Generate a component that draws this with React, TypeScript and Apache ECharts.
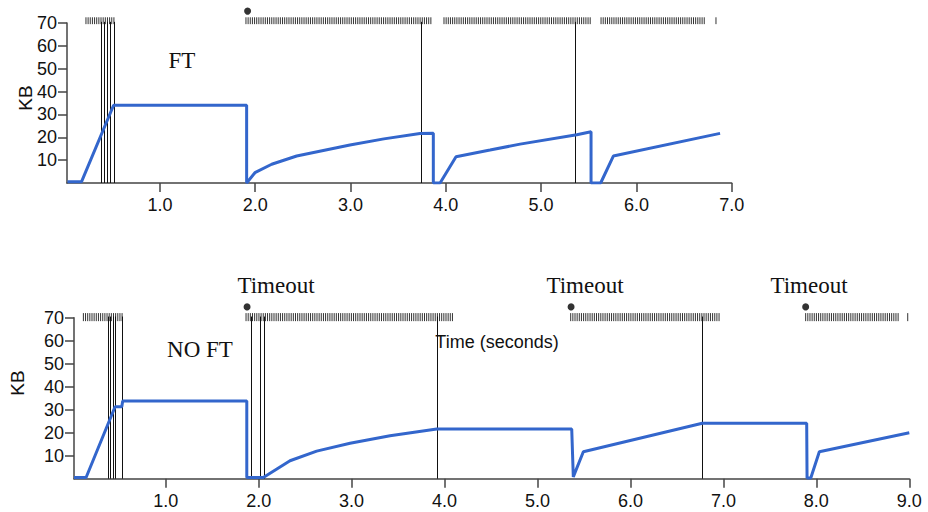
import React, { useEffect, useRef } from "react";
import * as echarts from "echarts";

// ---- Data ----
// Top panel (FT): congestion window over time
const topTime = [0.03, 0.178, 0.514, 1.91, 1.91, 1.997, 2.173, 2.435, 2.994, 3.35, 3.729, 3.869, 3.869, 3.94, 4.107, 4.464, 4.779, 5.374, 5.524, 5.524, 5.625, 5.758, 6.878];
const topKB = [0.6, 0.6, 34, 34, 0, 4.5, 8.2, 11.8, 16.6, 19.3, 21.7, 21.8, 0, 0, 11.5, 14.4, 17.0, 21.1, 22.4, 0, 0, 11.8, 21.7];
// packet bursts (start, end) in seconds
const topBursts = [[0.224, 0.53], [1.903, 3.855], [3.981, 5.534], [5.629, 6.72], [6.835, 6.835]];
// full-height marker lines
const topMarkers = [0.38, 0.41, 0.44, 0.475, 0.517, 3.74, 5.36];
const topTimeouts = [1.92];

// Bottom panel (NO FT)
const botTime = [0.013, 0.143, 0.455, 0.527, 0.537, 1.872, 1.872, 2.05, 2.337, 2.624, 2.983, 3.413, 3.916, 3.987, 5.368, 5.385, 5.493, 6.773, 7.896, 7.9, 7.94, 8.032, 9.0];
const botKB = [0.5, 0.5, 31.3, 31.3, 33.8, 33.8, 0.5, 0.5, 7.8, 12.0, 15.4, 18.7, 21.6, 21.6, 21.6, 0.8, 11.7, 24.1, 24.1, 0.3, 0.3, 11.7, 20.0];
const botBursts = [[0.114, 0.537], [1.864, 4.094], [5.357, 6.965], [7.885, 8.9], [8.983, 8.983]];
const botMarkers = [0.376, 0.401, 0.43, 0.458, 0.527, 1.918, 2.015, 2.057, 3.922, 6.775];
const botTimeouts = [1.875, 5.361, 7.885];

const topXTicks = [1, 2, 3, 4, 5, 6, 7];
const botXTicks = [1, 2, 3, 4, 5, 6, 7, 8, 9];
const yTicks = [10, 20, 30, 40, 50, 60, 70];

const BLUE = "#3366cc";
const AXIS = "#444";
const SANS = "Liberation Sans, Arial, sans-serif";
const SERIF = "Liberation Serif, Times New Roman, serif";

function zip(a: number[], b: number[]) {
  return a.map((v, i) => [v, b[i]]);
}

function burstSeries(idx: number, bursts: number[][], yLo: number, yHi: number) {
  return {
    type: "custom",
    xAxisIndex: idx,
    yAxisIndex: idx,
    clip: false,
    data: bursts,
    renderItem: (params: any, api: any) => {
      const s = api.value(0);
      const e = api.value(1);
      const p1 = api.coord([s, yHi]);
      const p2 = api.coord([e, yLo]);
      const children: any[] = [];
      const step = 2.15;
      const n = Math.max(1, Math.floor((p2[0] - p1[0]) / step) + 1);
      for (let i = 0; i < n; i++) {
        const x = p1[0] + i * step;
        children.push({
          type: "line",
          shape: { x1: x, y1: p1[1], x2: x, y2: p2[1] },
          style: { stroke: "#333", lineWidth: 1 },
        });
      }
      return { type: "group", children };
    },
  };
}

function markerSeries(idx: number, markers: number[]) {
  return {
    type: "custom",
    xAxisIndex: idx,
    yAxisIndex: idx,
    clip: false,
    data: markers.map((m) => [m]),
    renderItem: (params: any, api: any) => {
      const t = api.value(0);
      const a = api.coord([t, 70.5]);
      const b = api.coord([t, 0]);
      const x = Math.round(a[0]) + 0.5;
      return {
        type: "line",
        shape: { x1: x, y1: a[1], x2: x, y2: b[1] },
        style: { stroke: "#111", lineWidth: 1 },
      };
    },
  };
}

function xAxisCfg(idx: number, min: number, max: number, ticks: number[]) {
  return {
    type: "value",
    gridIndex: idx,
    min,
    max,
    splitLine: { show: false },
    axisLine: { show: true, lineStyle: { color: AXIS, width: 1.5 } },
    axisTick: { show: true, length: 9, customValues: ticks, lineStyle: { color: AXIS, width: 1.5 } },
    axisLabel: {
      customValues: ticks,
      margin: 13,
      color: "#111",
      fontFamily: SANS,
      fontSize: 18,
      formatter: (v: number) => v.toFixed(1),
    },
  };
}

function yAxisCfg(idx: number) {
  return {
    type: "value",
    gridIndex: idx,
    min: 0,
    max: 70,
    splitLine: { show: false },
    axisLine: { show: true, lineStyle: { color: AXIS, width: 1.5 } },
    axisTick: { show: true, length: 9, customValues: yTicks, lineStyle: { color: AXIS, width: 1.5 } },
    axisLabel: {
      customValues: yTicks,
      margin: 10,
      color: "#111",
      fontFamily: SANS,
      fontSize: 18,
    },
  };
}

export default function App() {
  const ref = useRef<HTMLDivElement>(null);
  useEffect(() => {
    if (!ref.current) return;
    const chart = echarts.init(ref.current, undefined, { renderer: "svg" });
    const option: any = {
      animation: false,
      backgroundColor: "#fff",
      grid: [
        { left: 67, right: 196.3, top: 23, height: 160 },
        { left: 74, right: 18.7, top: 317.7, height: 161 },
      ],
      xAxis: [xAxisCfg(0, 0.025, 7, topXTicks), xAxisCfg(1, 0.013, 9, botXTicks)],
      yAxis: [yAxisCfg(0), yAxisCfg(1)],
      graphic: [
        { type: "text", x: 182, y: 60, style: { text: "FT", font: `23px ${SERIF}`, fill: "#111", align: "center", verticalAlign: "middle" } },
        { type: "text", x: 200, y: 349, style: { text: "NO FT", font: `23px ${SERIF}`, fill: "#111", align: "center", verticalAlign: "middle" } },
        { type: "text", x: 276, y: 285, style: { text: "Timeout", font: `23px ${SERIF}`, fill: "#111", align: "center", verticalAlign: "middle" } },
        { type: "text", x: 585, y: 285, style: { text: "Timeout", font: `23px ${SERIF}`, fill: "#111", align: "center", verticalAlign: "middle" } },
        { type: "text", x: 809, y: 285, style: { text: "Timeout", font: `23px ${SERIF}`, fill: "#111", align: "center", verticalAlign: "middle" } },
        { type: "text", x: 497, y: 342, style: { text: "Time (seconds)", font: `18px ${SANS}`, fill: "#111", align: "center", verticalAlign: "middle" } },
        { type: "text", x: 25, y: 98, rotation: Math.PI / 2, style: { text: "KB", font: `19px ${SANS}`, fill: "#111", align: "center", verticalAlign: "middle" } },
        { type: "text", x: 17, y: 383, rotation: Math.PI / 2, style: { text: "KB", font: `19px ${SANS}`, fill: "#111", align: "center", verticalAlign: "middle" } },
      ],
      series: [
        burstSeries(0, topBursts, 69.5, 72.5),
        burstSeries(1, botBursts, 68.5, 72),
        markerSeries(0, topMarkers),
        markerSeries(1, botMarkers),
        {
          type: "line",
          xAxisIndex: 0,
          yAxisIndex: 0,
          data: zip(topTime, topKB),
          showSymbol: false,
          symbol: "none",
          lineStyle: { color: BLUE, width: 3 },
          z: 5,
        },
        {
          type: "line",
          xAxisIndex: 1,
          yAxisIndex: 1,
          data: zip(botTime, botKB),
          showSymbol: false,
          symbol: "none",
          lineStyle: { color: BLUE, width: 3 },
          z: 5,
        },
        {
          type: "scatter",
          xAxisIndex: 0,
          yAxisIndex: 0,
          clip: false,
          symbolSize: 7,
          itemStyle: { color: "#000" },
          data: topTimeouts.map((t) => [t, 75.2]),
        },
        {
          type: "scatter",
          xAxisIndex: 1,
          yAxisIndex: 1,
          clip: false,
          symbolSize: 7,
          itemStyle: { color: "#000" },
          data: botTimeouts.map((t) => [t, 74.7]),
        },
      ],
    };
    chart.setOption(option);
    return () => chart.dispose();
  }, []);
  return <div ref={ref} style={{ position: "absolute", left: 0, top: 0, width: 928, height: 512 }} />;
}
